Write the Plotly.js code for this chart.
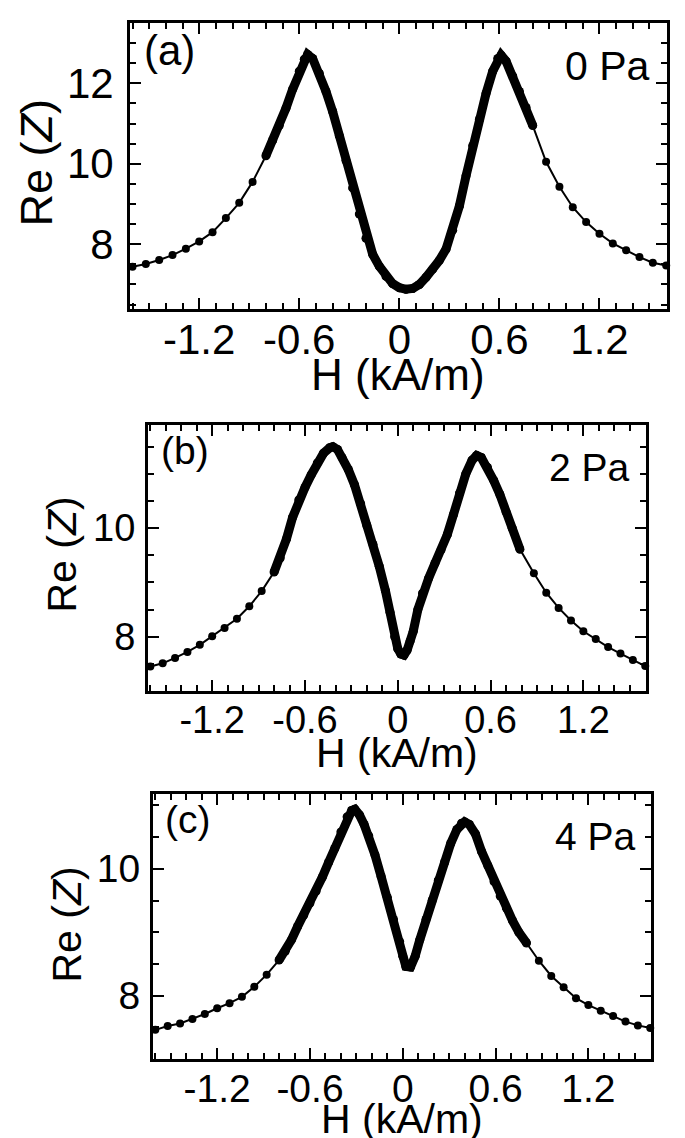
<!DOCTYPE html>
<html>
<head>
<meta charset="utf-8">
<script src="https://cdn.plot.ly/plotly-3.0.1.min.js"></script>
<style>html,body{margin:0;padding:0;background:#fff;}#plot{width:685px;height:1138px;}</style>
</head>
<body>
<div id="plot"></div>
<script>
// ---- data ----
const H_a = [-1.60,-1.52,-1.44,-1.36,-1.28,-1.20,-1.12,-1.04,-0.96,-0.88,-0.80,-0.76,-0.72,-0.68,-0.64,-0.60,-0.57,-0.55,-0.52,-0.48,-0.44,-0.40,-0.36,-0.32,-0.28,-0.24,-0.20,-0.16,-0.12,-0.08,-0.04,0.00,0.04,0.08,0.12,0.16,0.20,0.24,0.28,0.32,0.36,0.40,0.44,0.48,0.52,0.56,0.59,0.61,0.64,0.68,0.72,0.76,0.80,0.88,0.96,1.04,1.12,1.20,1.28,1.36,1.44,1.52,1.60];
const Z_a = [7.44,7.51,7.61,7.73,7.89,8.07,8.30,8.65,9.03,9.55,10.20,10.58,10.95,11.38,11.85,12.30,12.60,12.72,12.62,12.25,11.80,11.30,10.70,10.08,9.40,8.75,8.15,7.75,7.45,7.20,7.02,6.92,6.88,6.90,7.00,7.18,7.38,7.60,7.88,8.35,8.95,9.70,10.45,11.10,11.75,12.30,12.62,12.70,12.55,12.18,11.80,11.40,10.95,10.05,9.43,8.92,8.55,8.26,8.02,7.85,7.68,7.54,7.47];

const H_b = [-1.60,-1.52,-1.44,-1.36,-1.28,-1.20,-1.12,-1.04,-0.96,-0.88,-0.80,-0.76,-0.72,-0.68,-0.64,-0.60,-0.56,-0.52,-0.48,-0.44,-0.42,-0.39,-0.36,-0.32,-0.28,-0.24,-0.20,-0.16,-0.12,-0.08,-0.05,-0.02,0.00,0.02,0.04,0.06,0.08,0.10,0.13,0.16,0.20,0.24,0.28,0.32,0.36,0.40,0.44,0.48,0.51,0.54,0.58,0.62,0.66,0.70,0.74,0.79,0.88,0.96,1.04,1.12,1.20,1.28,1.36,1.44,1.52,1.60];
const Z_b = [7.45,7.51,7.61,7.72,7.85,8.01,8.16,8.33,8.56,8.84,9.19,9.45,9.80,10.20,10.52,10.75,10.98,11.20,11.38,11.48,11.50,11.45,11.30,11.08,10.80,10.45,10.05,9.70,9.30,8.85,8.45,8.00,7.78,7.68,7.66,7.75,7.92,8.10,8.50,8.80,9.08,9.35,9.60,9.88,10.25,10.65,11.00,11.25,11.34,11.30,11.12,10.88,10.62,10.30,10.00,9.61,9.17,8.81,8.53,8.30,8.10,7.96,7.81,7.69,7.57,7.46];

const H_c = [-1.60,-1.52,-1.44,-1.36,-1.28,-1.20,-1.12,-1.04,-0.96,-0.88,-0.80,-0.76,-0.72,-0.68,-0.64,-0.60,-0.56,-0.52,-0.48,-0.44,-0.40,-0.36,-0.33,-0.31,-0.28,-0.25,-0.22,-0.18,-0.14,-0.10,-0.06,-0.02,0.00,0.02,0.05,0.08,0.11,0.15,0.19,0.23,0.27,0.31,0.35,0.38,0.40,0.43,0.47,0.51,0.55,0.59,0.63,0.67,0.71,0.75,0.80,0.88,0.96,1.04,1.12,1.20,1.28,1.36,1.44,1.52,1.60];
const Z_c = [7.46,7.52,7.56,7.63,7.71,7.80,7.88,7.98,8.14,8.33,8.56,8.70,8.88,9.09,9.27,9.46,9.65,9.87,10.10,10.32,10.58,10.82,10.92,10.94,10.85,10.70,10.52,10.22,9.88,9.55,9.20,8.85,8.62,8.46,8.45,8.62,8.88,9.20,9.50,9.82,10.10,10.40,10.62,10.72,10.74,10.70,10.55,10.27,10.05,9.80,9.57,9.38,9.18,9.00,8.83,8.55,8.31,8.13,7.96,7.85,7.76,7.68,7.59,7.53,7.49];

const xTickVals = [-1.2,-0.6,0,0.6,1.2];
const xTickText = ['-1.2','-0.6','0','0.6','1.2'];
const yTickVals_a = [8,10,12];
const yTickVals_bc = [8,10];
const pressureLabels = ['0 Pa','2 Pa','4 Pa'];
const panelLabels = ['(a)','(b)','(c)'];
const xTitle = 'H (kA/m)';
const yTitle = 'Re (<i>Z</i>)';

// ---- layout geometry (pixels) ----
const W = 685, Hh = 1138;
const boxes = [
  {l:130, r:667, t:23,  b:309, yr:[6.39,13.5], yt:yTickVals_a,  fs:42, tfs:45, xso:-8, yso:5, ytx:35.5, yty:163, xtx:398.5, xty:374.5, xtfs:44},
  {l:148, r:646, t:425, b:691, yr:[7.0,11.9],  yt:yTickVals_bc, fs:38, tfs:41, xso:-7, yso:2, ytx:61.5, yty:555, xtx:397,   xty:753,   xtfs:41},
  {l:153, r:651, t:794, b:1059,yr:[7.0,11.18], yt:yTickVals_bc, fs:39, tfs:41, xso:-7, yso:2, ytx:66.5, yty:925, xtx:402,   xty:1118.5,xtfs:41}
];
const datasets = [[H_a,Z_a],[H_b,Z_b],[H_c,Z_c]];
const FONT = 'Liberation Sans, Arial, sans-serif';

const traces = [];
const layout = {
  width: W, height: Hh,
  margin: {l:0,r:0,t:0,b:0},
  paper_bgcolor:'#fff', plot_bgcolor:'#fff',
  showlegend:false,
  font:{family:FONT, color:'#000'},
  annotations: []
};

boxes.forEach((bx, i) => {
  const sfx = i === 0 ? '' : String(i+1);
  const xa = 'x' + sfx, ya = 'y' + sfx;
  const [hx, zy] = datasets[i];
  traces.push({
    x: hx, y: zy, xaxis: xa, yaxis: ya, type:'scatter', mode:'lines+markers',
    line:{color:'#000', width:2}, marker:{color:'#000', size:8}, cliponaxis:false
  });
  // densely sampled central part of the sweep drawn as a thick band
  const hd = [], zd = [];
  hx.forEach((v, k) => { if (Math.abs(v) <= 0.81) { hd.push(v); zd.push(zy[k]); } });
  traces.push({
    x: hd, y: zd, xaxis: xa, yaxis: ya, type:'scatter', mode:'lines+markers',
    line:{color:'#000', width:9}, marker:{color:'#000', size:9}, cliponaxis:false
  });
  const common = {
    showline:true, linewidth:3, linecolor:'#000', mirror:'allticks',
    ticks:'inside', ticklen:11, tickwidth:2, tickcolor:'#000',
    showgrid:false, zeroline:false, fixedrange:true
  };
  layout['xaxis' + sfx] = Object.assign({}, common, {
    domain:[bx.l/W, bx.r/W], anchor: ya, range:[-1.615,1.605],
    tickmode:'array', tickvals:xTickVals, ticktext:xTickText,
    tickfont:{size:bx.fs, family:FONT}, ticklabelstandoff: bx.xso,
    minor:{ticks:'inside', ticklen:6, tickwidth:2, tickcolor:'#000', tickmode:'linear', tick0:0, dtick:0.1, showgrid:false}
  });
  layout['yaxis' + sfx] = Object.assign({}, common, {
    domain:[1 - bx.b/Hh, 1 - bx.t/Hh], anchor: xa, range: bx.yr,
    tickmode:'array', tickvals: bx.yt, ticktext: bx.yt.map(String),
    tickfont:{size:bx.fs, family:FONT}, ticklabelstandoff: bx.yso,
    minor:{ticks:'inside', ticklen:6, tickwidth:2, tickcolor:'#000', tickmode:'linear', tick0:0, dtick:0.5, showgrid:false}
  });
  // axis titles placed as text right next to the tick labels
  layout.annotations.push({xref:'paper', yref:'paper', x:bx.ytx/W, y:1-bx.yty/Hh, xanchor:'center', yanchor:'middle',
    text: yTitle, textangle:-90, showarrow:false, font:{size:bx.tfs, family:FONT, color:'#000'}});
  layout.annotations.push({xref:'paper', yref:'paper', x:bx.xtx/W, y:1-bx.xty/Hh, xanchor:'center', yanchor:'middle',
    text: xTitle, showarrow:false, font:{size:bx.xtfs, family:FONT, color:'#000'}});
});

const labelPos = [
  {lx:142, ly:51, rx:652, ry:66, fs:42, pfs:41},
  {lx:159, ly:451, rx:632, ry:467, fs:39, pfs:39},
  {lx:163, ly:819, rx:638, ry:836, fs:39, pfs:39}
];
labelPos.forEach((p, i) => {
  layout.annotations.push({xref:'paper', yref:'paper', x:p.lx/W, y:1-p.ly/Hh, xanchor:'left', yanchor:'middle',
    text: panelLabels[i], showarrow:false, font:{size:p.fs, family:FONT, color:'#000'}});
  layout.annotations.push({xref:'paper', yref:'paper', x:p.rx/W, y:1-p.ry/Hh, xanchor:'right', yanchor:'middle',
    text: pressureLabels[i], showarrow:false, font:{size:p.pfs, family:FONT, color:'#000'}});
});

Plotly.newPlot('plot', traces, layout, {displayModeBar:false, staticPlot:true});
</script>
</body>
</html>
